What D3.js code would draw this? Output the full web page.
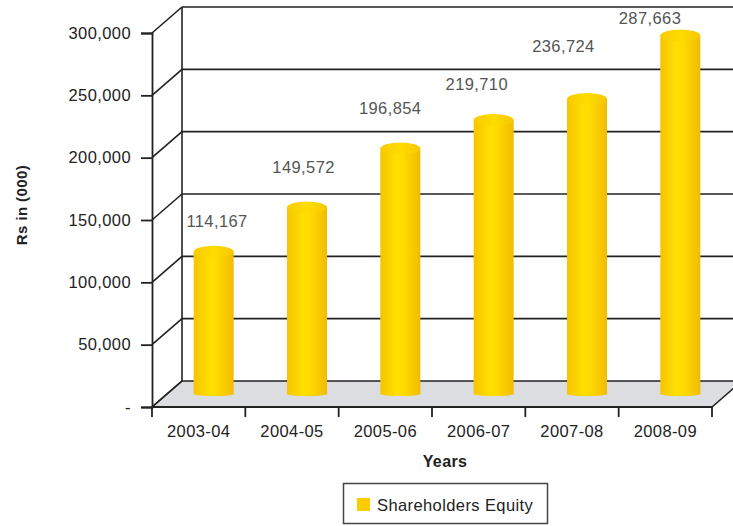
<!DOCTYPE html>
<html><head><meta charset="utf-8">
<script src="https://cdn.jsdelivr.net/npm/d3@7"></script>
<style>
html,body{margin:0;padding:0;background:#fff;}
svg{display:block;font-family:"Liberation Sans",Arial,Helvetica,sans-serif;}
svg text{letter-spacing:0.4px;}
</style></head>
<body>
<svg id="chart" width="733" height="526"></svg>
<script>
const categories = ["2003-04","2004-05","2005-06","2006-07","2007-08","2008-09"];
const equity = [114167,149572,196854,219710,236724,287663];
const yTickValues = [0,50000,100000,150000,200000,250000,300000];
const yTickLabels = ["-","50,000","100,000","150,000","200,000","250,000","300,000"];
const seriesName = "Shareholders Equity";

// styling / layout config
const labelLift = [31,41,41,36,53,17];
const depthX = 30, depthY = -26;
const fs = 16.5;
const svg = d3.select("#chart");
const x = d3.scaleBand().domain(categories).range([152,712]).padding(0);
const y = d3.scaleLinear().domain([0,300000]).range([407,33]);
const labelX = d3.scalePoint().domain(categories).range([217,650]);
const ink = "#222";

const defs = svg.append("defs");
const g1 = defs.append("linearGradient").attr("id","cyl").attr("x1","0").attr("x2","1").attr("y1","0").attr("y2","0");
[["0%","#f6c400"],["40%","#ffdf00"],["55%","#ffdc00"],["100%","#f3bb00"]].forEach(s=>g1.append("stop").attr("offset",s[0]).attr("stop-color",s[1]));
const g2 = defs.append("linearGradient").attr("id","cyltop").attr("x1","0").attr("x2","1").attr("y1","0").attr("y2","0");
[["0%","#f8cc00"],["50%","#ffdc00"],["100%","#f6c800"]].forEach(s=>g2.append("stop").attr("offset",s[0]).attr("stop-color",s[1]));

// floor
const x0 = x.range()[0], x1 = x.range()[1];
svg.append("path")
  .attr("d",`M${x0},${y(0)}L${x1},${y(0)}L${x1+depthX},${y(0)+depthY}L${x0+depthX},${y(0)+depthY}Z`)
  .attr("fill","#dcdde0").attr("stroke",ink).attr("stroke-width",1.6);

// back gridlines and side diagonals
yTickValues.forEach(v=>{
  const yy = y(v);
  if(v>0){
    svg.append("line").attr("x1",x0+depthX).attr("x2",760).attr("y1",yy+depthY).attr("y2",yy+depthY)
      .attr("stroke",ink).attr("stroke-width",1.6);
  }
  svg.append("line").attr("x1",x0).attr("y1",yy).attr("x2",x0+depthX).attr("y2",yy+depthY)
    .attr("stroke",ink).attr("stroke-width",1.6);
});
// back wall vertical
svg.append("line").attr("x1",x0+depthX).attr("x2",x0+depthX).attr("y1",y(300000)+depthY).attr("y2",y(0)+depthY)
  .attr("stroke",ink).attr("stroke-width",1.6);

// y axis
const yAxis = d3.axisLeft(y).tickValues(yTickValues).tickFormat((d,i)=>yTickLabels[i]).tickSizeOuter(0).tickSize(11).tickPadding(10);
const ya = svg.append("g").attr("transform",`translate(${x0},0)`).call(yAxis);
ya.select(".domain").attr("stroke",ink).attr("stroke-width",1.8);
ya.selectAll(".tick line").attr("stroke",ink).attr("stroke-width",1.8);
ya.selectAll(".tick text").attr("fill",ink).attr("font-size",fs).attr("font-family","Liberation Sans, Arial, sans-serif");

// x axis
const xa = svg.append("g").attr("transform",`translate(0,${y(0)})`)
  .call(d3.axisBottom(x).tickSize(0).tickPadding(18));
xa.select(".domain").remove();
xa.selectAll(".tick text").attr("fill",ink).attr("font-size",fs).attr("font-family","Liberation Sans, Arial, sans-serif");
const bounds = categories.map(c=>x(c)).concat([x1]);
svg.append("g").selectAll("line").data(bounds).join("line")
  .attr("x1",d=>d).attr("x2",d=>d).attr("y1",y(0)).attr("y2",y(0)+10)
  .attr("stroke",ink).attr("stroke-width",1.8);
svg.append("line").attr("x1",x0).attr("x2",x1).attr("y1",y(0)).attr("y2",y(0)).attr("stroke",ink).attr("stroke-width",1.8);

// cylinders
const rx = 20, ry = 6;
const cx = c => x(c) + x.bandwidth()/2 + depthX/2;
const base = v => y(v) + depthY/2;
const bars = svg.append("g").selectAll("g").data(categories).join("g");
bars.append("path")
  .attr("d",(c,i)=>{
    const xc = cx(c), top = base(equity[i]), bot = base(0);
    return `M${xc-rx},${top}L${xc-rx},${bot}A${rx},${2},0,0,0,${xc+rx},${bot}L${xc+rx},${top}Z`;
  })
  .attr("fill","url(#cyl)");
bars.append("ellipse")
  .attr("cx",c=>cx(c)).attr("cy",(c,i)=>base(equity[i])).attr("rx",rx).attr("ry",ry)
  .attr("fill","url(#cyltop)");

// value labels
svg.append("g").selectAll("text").data(categories).join("text")
  .attr("x",c=>labelX(c)).attr("y",(c,i)=>base(equity[i]) - labelLift[i])
  .attr("text-anchor","middle").attr("dominant-baseline","central")
  .attr("font-size",fs).attr("fill","#555")
  .text((c,i)=>d3.format(",")(equity[i]));

// axis titles
svg.append("text").attr("x",445).attr("y",461).attr("text-anchor","middle").attr("dominant-baseline","central")
  .attr("font-size",16).attr("font-weight","bold").attr("fill",ink).text("Years");
svg.append("text").attr("transform","translate(21,205) rotate(-90)").attr("text-anchor","middle").attr("dominant-baseline","central")
  .attr("font-size",15).attr("font-weight","bold").attr("fill",ink).text("Rs in (000)");

// legend
const lg = svg.append("g");
lg.append("rect").attr("x",343.5).attr("y",483.5).attr("width",204).attr("height",40)
  .attr("fill","none").attr("stroke","#444").attr("stroke-width",1.5);
lg.append("rect").attr("x",357).attr("y",498).attr("width",13).attr("height",13).attr("fill","#ffcc00");
lg.append("text").attr("x",377).attr("y",505).attr("dominant-baseline","central").attr("font-size",fs)
  .attr("fill",ink).text(seriesName);
</script>
</body></html>
